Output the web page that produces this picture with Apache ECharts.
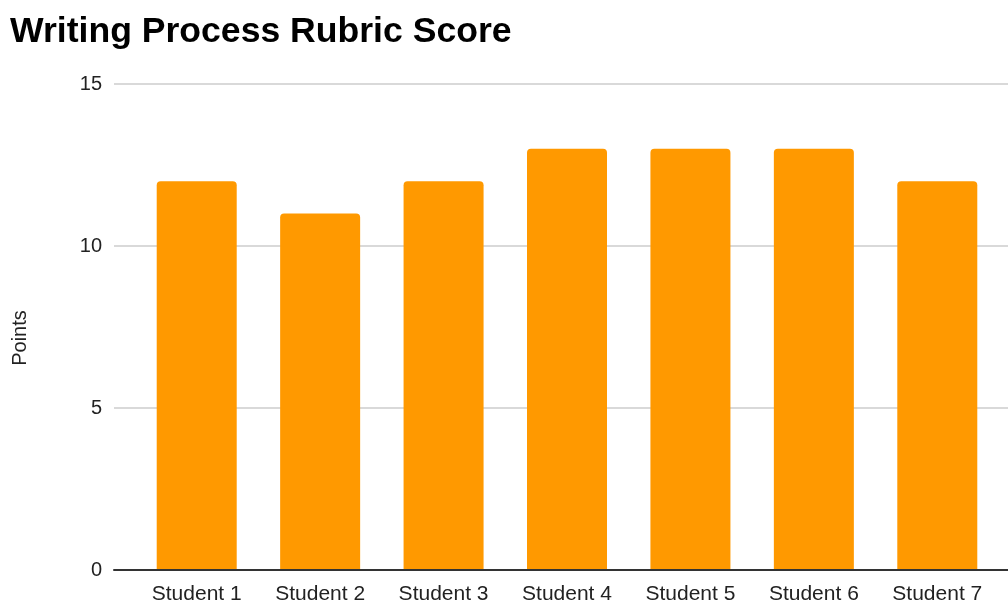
<!DOCTYPE html>
<html><head><meta charset="utf-8">
<script src="https://cdn.jsdelivr.net/npm/echarts@6/dist/echarts.min.js"></script>
<style>html,body{margin:0;padding:0;background:#fff}#c{width:1008px;height:602px}</style>
</head><body><div id="c"></div>
<script>
const title = 'Writing Process Rubric Score';
const categories = ['Student 1','Student 2','Student 3','Student 4','Student 5','Student 6','Student 7'];
const points = [12, 11, 12, 13, 13, 13, 12];
const yAxisName = 'Points';
const yMin = 0, yMax = 15, yStep = 5;

const font = 'Liberation Sans, Arial, sans-serif';
const chart = echarts.init(document.getElementById('c'), null, {renderer: 'canvas'});
chart.setOption({
  animation: false,
  backgroundColor: '#fff',
  title: {text: title, left: 5, top: 9,
    textStyle: {fontFamily: font, fontSize: 35.6, fontWeight: 'bold', color: '#000'}},
  grid: [
    {left: 114, right: 0, top: 84, bottom: 32, containLabel: false, outerBoundsMode: 'none'},
    {left: 135, width: 864, top: 84, bottom: 32, containLabel: false, outerBoundsMode: 'none'}
  ],
  xAxis: [
    {gridIndex: 0, type: 'category', data: categories, z: 10,
     axisLine: {show: true, lineStyle: {color: '#333', width: 2}},
     axisTick: {show: false}, axisLabel: {show: false}, splitLine: {show: false}},
    {gridIndex: 1, type: 'category', data: categories, axisLine: {show: false}, axisTick: {show: false},
     splitLine: {show: false},
     axisLabel: {fontFamily: font, fontSize: 21, color: '#222', margin: 14}}
  ],
  yAxis: [
    {gridIndex: 0, type: 'value', min: yMin, max: yMax, interval: yStep,
     name: yAxisName, nameLocation: 'middle', nameGap: 84,
     nameTextStyle: {fontFamily: font, fontSize: 20, color: '#222', padding: [0, 22, 0, 0]},
     axisLine: {show: false}, axisTick: {show: false},
     axisLabel: {fontFamily: font, fontSize: 20, color: '#222', margin: 12},
     splitLine: {lineStyle: {color: '#cccccc', width: 1.5}}},
    {gridIndex: 1, type: 'value', min: yMin, max: yMax, interval: yStep, show: false,
     axisLine: {show: false}, splitLine: {show: false}}
  ],
  series: [{
    type: 'bar', xAxisIndex: 1, yAxisIndex: 1, data: points, barWidth: 80,
    itemStyle: {color: '#ff9900', borderRadius: [4, 4, 0, 0]}
  }]
});
</script></body></html>
